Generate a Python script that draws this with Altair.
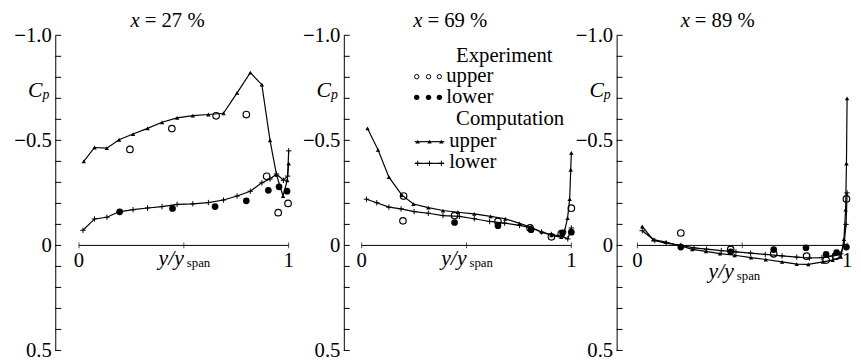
import altair as alt
import pandas as pd

FONT = "Liberation Serif"
FS = 21
LFS = 20
PX = 213.0
H = 320
CROSS = "M-1,0H1M0,-1V1"

titles = ["27", "69", "89"]
ytick_vals = [-1.0, -0.9, -0.8, -0.7, -0.6, -0.5, -0.4, -0.3, -0.2, -0.1,
              0.0, 0.1, 0.2, 0.3, 0.4, 0.5]
ylabel_vals = [-1.0, -0.5, 0.0, 0.5]
xtick_vals = [0.0, 0.5, 1.0]
xlabel_vals = [0.0, 1.0]
xlabel_text = ["0", "1"]

# ---- x = 27 % ----
p1_cu_x = [0.023, 0.074, 0.133, 0.191, 0.258, 0.327, 0.396, 0.468, 0.543, 0.617,
           0.689, 0.754, 0.817, 0.872, 0.911, 0.942, 0.973, 0.993, 1.0]
p1_cu_y = [-0.40, -0.466, -0.463, -0.503, -0.53, -0.557, -0.586, -0.607, -0.618, -0.623,
           -0.629, -0.726, -0.822, -0.765, -0.50, -0.336, -0.235, -0.31, -0.39]
p1_cl_x = [0.019, 0.074, 0.133, 0.191, 0.258, 0.327, 0.396, 0.468, 0.543, 0.617,
           0.689, 0.754, 0.817, 0.872, 0.911, 0.942, 0.975, 0.995, 1.0]
p1_cl_y = [-0.072, -0.126, -0.134, -0.16, -0.17, -0.178, -0.185, -0.195, -0.198, -0.204,
           -0.216, -0.235, -0.258, -0.298, -0.316, -0.34, -0.31, -0.33, -0.45]
p1_eu_x = [0.243, 0.443, 0.654, 0.798, 0.895, 0.95, 0.997]
p1_eu_y = [-0.457, -0.556, -0.617, -0.623, -0.329, -0.156, -0.20]
p1_el_x = [0.194, 0.446, 0.649, 0.798, 0.903, 0.954, 0.992]
p1_el_y = [-0.16, -0.176, -0.185, -0.212, -0.262, -0.279, -0.258]

# ---- x = 69 % ----
p2_cu_x = [0.028, 0.078, 0.13, 0.192, 0.247, 0.318, 0.388, 0.459, 0.537, 0.615, 0.685,
           0.753, 0.808, 0.858, 0.905, 0.952, 0.968, 0.982, 0.992, 0.997, 1.0]
p2_cu_y = [-0.557, -0.455, -0.325, -0.239, -0.197, -0.18, -0.166, -0.158, -0.15, -0.138, -0.127,
           -0.105, -0.086, -0.064, -0.048, -0.039, -0.07, -0.13, -0.22, -0.36, -0.44]
p2_cl_x = [0.023, 0.072, 0.13, 0.188, 0.25, 0.318, 0.388, 0.466, 0.537, 0.61, 0.682,
           0.753, 0.808, 0.858, 0.905, 0.952, 0.983, 1.0]
p2_cl_y = [-0.22, -0.203, -0.182, -0.174, -0.161, -0.153, -0.142, -0.138, -0.127, -0.114, -0.106,
           -0.095, -0.083, -0.064, -0.052, -0.044, -0.031, -0.083]
p2_eu_x = [0.2, 0.197, 0.443, 0.65, 0.803, 0.905, 0.952, 1.0]
p2_eu_y = [-0.235, -0.117, -0.142, -0.114, -0.083, -0.041, -0.056, -0.177]
p2_el_x = [0.443, 0.65, 0.808, 0.958, 1.0]
p2_el_y = [-0.109, -0.094, -0.075, -0.06, -0.063]

# ---- x = 89 % ----
p3_cu_x = [0.023, 0.075, 0.137, 0.207, 0.262, 0.327, 0.394, 0.464, 0.542, 0.612,
           0.69, 0.76, 0.815, 0.885, 0.931, 0.97, 0.985, 0.993, 0.997, 1.0]
p3_cu_y = [-0.09, -0.028, -0.016, 0.003, 0.019, 0.028, 0.039, 0.047, 0.058, 0.067,
           0.078, 0.089, 0.09, 0.078, 0.07, 0.055, -0.03, -0.17, -0.39, -0.70]
p3_cl_x = [0.023, 0.083, 0.137, 0.207, 0.27, 0.33, 0.40, 0.47, 0.54, 0.61,
           0.69, 0.76, 0.82, 0.88, 0.93, 0.97, 0.985, 0.995, 1.0]
p3_cl_y = [-0.07, -0.023, -0.011, 0.0, 0.012, 0.018, 0.025, 0.031, 0.037, 0.043,
           0.05, 0.056, 0.06, 0.058, 0.05, 0.04, 0.0, -0.1, -0.25]
p3_eu_x = [0.207, 0.445, 0.65, 0.807, 0.9, 0.947, 0.997]
p3_eu_y = [-0.059, 0.019, 0.04, 0.051, 0.07, 0.051, -0.221]
p3_el_x = [0.207, 0.445, 0.65, 0.804, 0.9, 0.95, 0.997]
p3_el_y = [0.008, 0.03, 0.02, 0.011, 0.043, 0.034, 0.008]


def mk(xs, ys):
    return pd.DataFrame({"x": xs, "cp": ys, "i": list(range(len(xs)))})


def panel(num, xmin, xmax, cu, cl, eu, el, tx, yy_x, yy_dy, legend=False):
    width = round((xmax - xmin) * PX)
    xs = alt.Scale(domain=[xmin, xmax], nice=False, zero=False)
    ys = alt.Scale(domain=[-1.0, 0.5], reverse=True, nice=False, zero=False)
    yaxis = alt.Axis(values=ylabel_vals, tickSize=0, grid=False, title=None,
                     domainColor="black", domainWidth=1,
                     labelFont=FONT, labelFontSize=FS, labelColor="black",
                     labelPadding=4,
                     labelExpr="datum.value == 0 ? '0' : (datum.value < 0 ? '\u2212' + format(-datum.value, '.1f') : format(datum.value, '.1f'))")

    def X(f):
        return alt.X(f"{f}:Q", scale=xs, axis=None)

    def Y(f):
        return alt.Y(f"{f}:Q", scale=ys, axis=yaxis)

    def px2x(p):
        return xmin + p / width * (xmax - xmin)

    def py2y(p):
        return -1.0 + p / H * 1.5

    layers = []
    layers.append(alt.Chart(pd.DataFrame({"v": ytick_vals})).mark_rule(
        color="black", strokeWidth=1).encode(y=Y("v"), x=alt.value(0), x2=alt.value(6)))
    layers.append(alt.Chart(pd.DataFrame({"x0": [0.0], "x1": [1.0], "cp": [0.0]})).mark_rule(
        color="black", strokeWidth=1).encode(x=X("x0"), x2="x1:Q", y=Y("cp")))
    layers.append(alt.Chart(pd.DataFrame({"x": xtick_vals, "cp": [0.0] * len(xtick_vals)})).mark_tick(
        color="black", orient="vertical", size=6, thickness=1).encode(x=X("x"), y=Y("cp")))
    layers.append(alt.Chart(pd.DataFrame({"x": xlabel_vals, "cp": [0.0, 0.0], "t": xlabel_text})).mark_text(
        font=FONT, fontSize=FS, color="black", baseline="top", dy=5).encode(x=X("x"), y=Y("cp"), text="t:N"))

    for df, shape, filled, size in [(mk(*cu), "triangle-up", True, 20), (mk(*cl), CROSS, False, 30)]:
        base = alt.Chart(df).encode(x=X("x"), y=Y("cp"), order="i:Q")
        layers.append(base.mark_line(color="black", strokeWidth=1.2))
        layers.append(base.mark_point(shape=shape, filled=filled, size=size, color="black",
                                      opacity=1, strokeWidth=1))
    layers.append(alt.Chart(mk(*eu)).mark_point(shape="circle", filled=False, size=44, color="black",
                                                opacity=1, strokeWidth=1.2).encode(x=X("x"), y=Y("cp")))
    layers.append(alt.Chart(mk(*el)).mark_point(shape="circle", filled=True, size=46, color="black",
                                                opacity=1).encode(x=X("x"), y=Y("cp")))

    tdf = pd.DataFrame({"x": [tx], "cp": [-1.0]})
    layers.append(alt.Chart(tdf).mark_text(font=FONT, fontSize=FS, fontStyle="italic", color="black",
                                           align="right", baseline="alphabetic", dy=-8, text="x").encode(
        x=X("x"), y=Y("cp")))
    layers.append(alt.Chart(tdf).mark_text(font=FONT, fontSize=FS, color="black", align="left",
                                           baseline="alphabetic", dx=5, dy=-8, text=f"= {num} %").encode(
        x=X("x"), y=Y("cp")))
    ydf = pd.DataFrame({"x": [yy_x], "cp": [0.0]})
    layers.append(alt.Chart(ydf).mark_text(font=FONT, fontSize=FS + 1, fontStyle="italic", color="black",
                                           align="right", baseline="alphabetic", dy=yy_dy, text="y/y").encode(
        x=X("x"), y=Y("cp")))
    layers.append(alt.Chart(ydf).mark_text(font=FONT, fontSize=13, color="black", align="left",
                                           baseline="alphabetic", dx=3, dy=yy_dy + 2, text="span").encode(
        x=X("x"), y=Y("cp")))
    cdf = pd.DataFrame({"cp": [-0.74]})
    layers.append(alt.Chart(cdf).mark_text(font=FONT, fontSize=FS + 1, fontStyle="italic", color="black",
                                           align="right", baseline="middle", text="C").encode(
        x=alt.value(-13), y=Y("cp")))
    layers.append(alt.Chart(cdf).mark_text(font=FONT, fontSize=14, fontStyle="italic", color="black",
                                           align="left", baseline="middle", dy=5, text="p").encode(
        x=alt.value(-13), y=Y("cp")))

    if legend:
        head = pd.DataFrame({"x": [px2x(114), px2x(114)], "cp": [py2y(27), py2y(91)],
                             "t": ["Experiment", "Computation"]})
        layers.append(alt.Chart(head).mark_text(font=FONT, fontSize=LFS + 1, color="black", align="left",
                                                baseline="alphabetic").encode(x=X("x"), y=Y("cp"), text="t:N"))
        items = pd.DataFrame({"x": [px2x(104), px2x(104), px2x(107), px2x(107)],
                              "cp": [py2y(47), py2y(69), py2y(113), py2y(135)],
                              "t": ["upper", "lower", "upper", "lower"]})
        layers.append(alt.Chart(items).mark_text(font=FONT, fontSize=LFS + 1, color="black", align="left",
                                                 baseline="alphabetic").encode(x=X("x"), y=Y("cp"), text="t:N"))
        gx = [px2x(74), px2x(86), px2x(97)]
        layers.append(alt.Chart(pd.DataFrame({"x": gx, "cp": [py2y(42)] * 3})).mark_point(
            shape="circle", filled=False, size=20, color="black", opacity=1, strokeWidth=1).encode(
            x=X("x"), y=Y("cp")))
        layers.append(alt.Chart(pd.DataFrame({"x": gx, "cp": [py2y(63)] * 3})).mark_point(
            shape="circle", filled=True, size=30, color="black", opacity=1).encode(x=X("x"), y=Y("cp")))
        for py, shape, filled, size in [(108, "triangle-up", True, 20), (130, CROSS, False, 30)]:
            ldf = pd.DataFrame({"x": [px2x(72), px2x(75), px2x(87), px2x(99), px2x(102)],
                                "cp": [py2y(py)] * 5, "i": list(range(5))})
            b = alt.Chart(ldf).encode(x=X("x"), y=Y("cp"), order="i:Q")
            layers.append(b.mark_line(color="black", strokeWidth=1.2))
            layers.append(alt.Chart(ldf.iloc[1:4]).mark_point(shape=shape, filled=filled, size=size,
                                                              color="black", opacity=1, strokeWidth=1).encode(
                x=X("x"), y=Y("cp")))

    return alt.layer(*layers).properties(width=width, height=H)


p1 = panel(titles[0], -0.113, 1.0, (p1_cu_x, p1_cu_y), (p1_cl_x, p1_cl_y),
           (p1_eu_x, p1_eu_y), (p1_el_x, p1_el_y), 0.29, 0.50, 20)
p2 = panel(titles[1], -0.085, 0.953, (p2_cu_x, p2_cu_y), (p2_cl_x, p2_cl_y),
           (p2_eu_x, p2_eu_y), (p2_el_x, p2_el_y), 0.29, 0.50, 20, legend=True)
p3 = panel(titles[2], -0.099, 1.0, (p3_cu_x, p3_cu_y), (p3_cl_x, p3_cl_y),
           (p3_eu_x, p3_eu_y), (p3_el_x, p3_el_y), 0.25, 0.46, 33)

chart = alt.hconcat(p1, p2, p3, spacing=56, bounds="flush").configure_view(
    stroke=None).properties(padding={"left": 5, "top": 0, "right": 0, "bottom": 0})

chart.save("out.html", embed_options={"renderer": "svg", "actions": False})
